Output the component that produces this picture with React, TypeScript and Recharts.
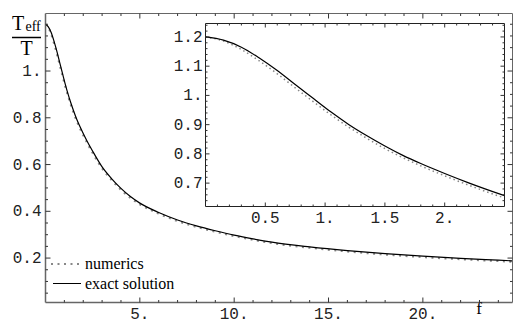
import React from 'react';
import { LineChart, Line, XAxis, YAxis } from 'recharts';

// f values and the two curves
const fValues = [0, 0.15, 0.3, 0.45, 0.6, 0.75, 0.9, 1.05, 1.2, 1.35, 1.5, 1.65, 1.8, 2, 2.2, 2.5, 3, 3.5, 4, 4.5, 5, 6, 7, 8, 9, 10, 11, 12, 14, 16, 18, 20, 22, 24, 24.75];
const exactValues = [1.2, 1.189, 1.165, 1.128, 1.085, 1.037, 0.99, 0.943, 0.9, 0.862, 0.827, 0.795, 0.767, 0.733, 0.701, 0.657, 0.59, 0.54, 0.498, 0.463, 0.435, 0.395, 0.363, 0.338, 0.317, 0.298, 0.282, 0.268, 0.248, 0.232, 0.219, 0.208, 0.199, 0.191, 0.188];
const numericValues = [1.2, 1.186, 1.157, 1.118, 1.074, 1.026, 0.979, 0.933, 0.891, 0.853, 0.818, 0.787, 0.759, 0.725, 0.693, 0.649, 0.583, 0.534, 0.492, 0.457, 0.43, 0.39, 0.358, 0.333, 0.313, 0.294, 0.278, 0.264, 0.244, 0.228, 0.215, 0.204, 0.195, 0.187, 0.184];

// tick labels (Mathematica style)
const mainXTicks = [5, 10, 15, 20];
const mainXLabels = ['5.', '10.', '15.', '20.'];
const mainYTicks = [0.2, 0.4, 0.6, 0.8, 1];
const mainYLabels = ['0.2', '0.4', '0.6', '0.8', '1.'];
const insetXTicks = [0.5, 1, 1.5, 2];
const insetXLabels = ['0.5', '1.', '1.5', '2.'];
const insetYTicks = [0.7, 0.8, 0.9, 1, 1.1, 1.2];
const insetYLabels = ['0.7', '0.8', '0.9', '1.', '1.1', '1.2'];

const rows = fValues.map((f, i) => ({ f, exact: exactValues[i], numerics: numericValues[i] }));
const insetRows = rows.filter(r => r.f <= 2.5);

// minor tick positions
const steps = (from: number, to: number, step: number) => {
  const out: number[] = [];
  for (let v = from; v <= to + 1e-9; v += step) out.push(Math.round(v * 1000) / 1000);
  return out;
};
const mainXAll = steps(1, 24, 1);
const mainYAll = steps(0.05, 1.2, 0.05);
const insetXAll = steps(0.1, 2.4, 0.1);
const insetYAll = steps(0.64, 1.24, 0.02);

const monoFont = '"Liberation Mono", "DejaVu Sans Mono", monospace';
const serifFont = '"Liberation Serif", "DejaVu Serif", serif';

type Side = 'bottom' | 'top' | 'left' | 'right';

const makeTick = (side: Side, majors: number[], labels: string[], majorLen: number, minorLen: number, off: number) =>
  (props: any) => {
    const { x, y, payload } = props;
    const idx = majors.findIndex(m => Math.abs(m - payload.value) < 1e-6);
    const len = idx >= 0 ? majorLen : minorLen;
    const label = idx >= 0 ? labels[idx] : null;
    const stroke = '#333';
    if (side === 'bottom') {
      return (
        <g>
          <line x1={x} y1={y} x2={x} y2={y - len} stroke={stroke} strokeWidth={1} />
          {label && (
            <text x={x} y={y + off} textAnchor="middle" fontFamily={monoFont} fontSize={16} fill="#222">{label}</text>
          )}
        </g>
      );
    }
    if (side === 'top') {
      return <line x1={x} y1={y} x2={x} y2={y + len} stroke={stroke} strokeWidth={1} />;
    }
    if (side === 'left') {
      return (
        <g>
          <line x1={x} y1={y} x2={x + len} y2={y} stroke={stroke} strokeWidth={1} />
          {label && (
            <text x={x - off} y={y + 5} textAnchor="end" fontFamily={monoFont} fontSize={16} fill="#222">{label}</text>
          )}
        </g>
      );
    }
    return <line x1={x} y1={y} x2={x - len} y2={y} stroke={stroke} strokeWidth={1} />;
  };

export default function App() {
  const mainX: [number, number] = [0, 24.75];
  const mainY: [number, number] = [0.01, 1.246];
  const insX: [number, number] = [0, 2.5];
  const insY: [number, number] = [0.62, 1.246];

  return (
    <div style={{ position: 'absolute', left: 0, top: 0, width: 514, height: 323, background: '#fff' }}>
      <LineChart width={514} height={323} data={rows} margin={{ top: 12.5, right: 0.5, bottom: 0, left: 0 }}>
        <XAxis xAxisId="b" type="number" dataKey="f" domain={mainX} allowDataOverflow ticks={mainXAll} interval={0}
          height={20.5} tickSize={0} tickMargin={0} tickLine={false} axisLine={{ stroke: '#666', strokeWidth: 1.5 }}
          tick={makeTick('bottom', mainXTicks, mainXLabels, 5, 2.5, 16.5)} />
        <XAxis xAxisId="t" orientation="top" type="number" dataKey="f" domain={mainX} allowDataOverflow ticks={mainXAll} interval={0}
          height={1} tickSize={0} tickMargin={0} tickLine={false} axisLine={{ stroke: '#666', strokeWidth: 1 }}
          tick={makeTick('top', mainXTicks, mainXLabels, 5, 2.5, 0)} />
        <YAxis yAxisId="l" type="number" domain={mainY} allowDataOverflow ticks={mainYAll} interval={0}
          width={45.5} tickSize={0} tickMargin={0} tickLine={false} axisLine={{ stroke: '#666', strokeWidth: 1.5 }}
          tick={makeTick('left', mainYTicks, mainYLabels, 5, 2.5, 4)} />
        <YAxis yAxisId="r" orientation="right" type="number" domain={mainY} allowDataOverflow ticks={mainYAll} interval={0}
          width={1} tickSize={0} tickMargin={0} tickLine={false} axisLine={{ stroke: '#666', strokeWidth: 1 }}
          tick={makeTick('right', mainYTicks, mainYLabels, 5, 2.5, 0)} />
        <Line xAxisId="t" yAxisId="r" dataKey="numerics" type="monotone" stroke="#888" strokeWidth={2}
          strokeDasharray="2 4.5" dot={false} isAnimationActive={false} />
        <Line xAxisId="b" yAxisId="l" dataKey="exact" type="monotone" stroke="#000" strokeWidth={1.2}
          dot={false} isAnimationActive={false} />
      </LineChart>

      <div style={{ position: 'absolute', left: 160, top: 20, width: 350, height: 210 }}>
        <LineChart width={350} height={210} data={insetRows} margin={{ top: 2.5, right: 4.5, bottom: 0, left: 0 }}>
          <XAxis xAxisId="b" type="number" dataKey="f" domain={insX} allowDataOverflow ticks={insetXAll} interval={0}
            height={23.5} tickSize={0} tickMargin={0} tickLine={false} axisLine={{ stroke: '#222', strokeWidth: 1 }}
            tick={makeTick('bottom', insetXTicks, insetXLabels, 4, 2, 16)} />
          <XAxis xAxisId="t" orientation="top" type="number" dataKey="f" domain={insX} allowDataOverflow ticks={insetXAll} interval={0}
            height={1} tickSize={0} tickMargin={0} tickLine={false} axisLine={{ stroke: '#222', strokeWidth: 1 }}
            tick={makeTick('top', insetXTicks, insetXLabels, 4, 2, 0)} />
          <YAxis yAxisId="l" type="number" domain={insY} allowDataOverflow ticks={insetYAll} interval={0}
            width={45.5} tickSize={0} tickMargin={0} tickLine={false} axisLine={{ stroke: '#222', strokeWidth: 1 }}
            tick={makeTick('left', insetYTicks, insetYLabels, 4, 2, 3)} />
          <YAxis yAxisId="r" orientation="right" type="number" domain={insY} allowDataOverflow ticks={insetYAll} interval={0}
            width={1} tickSize={0} tickMargin={0} tickLine={false} axisLine={{ stroke: '#222', strokeWidth: 1 }}
            tick={makeTick('right', insetYTicks, insetYLabels, 4, 2, 0)} />
          <Line xAxisId="t" yAxisId="r" dataKey="numerics" type="monotone" stroke="#888" strokeWidth={1.5}
            strokeDasharray="1.5 3" dot={false} isAnimationActive={false} />
          <Line xAxisId="b" yAxisId="l" dataKey="exact" type="monotone" stroke="#000" strokeWidth={1.2}
            dot={false} isAnimationActive={false} />
        </LineChart>
      </div>

      {/* axis labels and legend */}
      <svg width={514} height={323} style={{ position: 'absolute', left: 0, top: 0, pointerEvents: 'none' }}>
        <text x={12} y={30} fontFamily={serifFont} fontSize={20} fill="#000">T</text>
        <text x={25.5} y={31} fontFamily={serifFont} fontSize={14} fill="#000">eff</text>
        <line x1={12} y1={37.5} x2={41} y2={37.5} stroke="#000" strokeWidth={1.5} />
        <text x={26.5} y={55} textAnchor="middle" fontFamily={serifFont} fontSize={20} fill="#000">T</text>
        <text x={479} y={314} textAnchor="middle" fontFamily={serifFont} fontSize={17} fill="#000">f</text>

        <line x1={51} y1={264} x2={82} y2={264} stroke="#888" strokeWidth={2} strokeDasharray="2 4.5" />
        <text x={85} y={269} fontFamily={serifFont} fontSize={16} fill="#000">numerics</text>
        <line x1={53} y1={283.5} x2={81} y2={283.5} stroke="#000" strokeWidth={1} />
        <text x={85} y={288.5} fontFamily={serifFont} fontSize={16} fill="#000">exact solution</text>
      </svg>
    </div>
  );
}
